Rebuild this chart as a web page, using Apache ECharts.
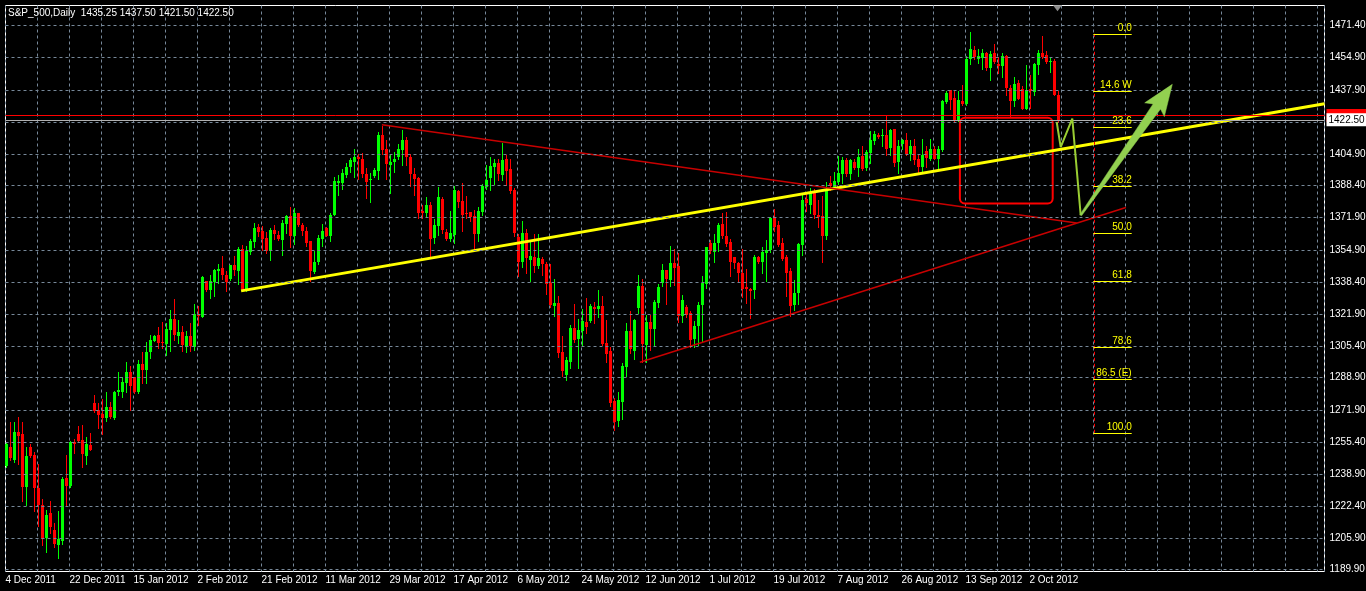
<!DOCTYPE html>
<html><head><meta charset="utf-8">
<script src="https://cdn.jsdelivr.net/npm/echarts@6/dist/echarts.min.js"></script>
<style>html,body{margin:0;padding:0;background:#000;overflow:hidden}#c{width:1366px;height:591px}</style>
</head><body><div id="c"></div>
<script>
const symbolName = 'S&P_500';
const timeframe = 'Daily';
// daily bars: [open, high, low, close]
const ohlc = [
[1243.4,1255.4,1242.5,1254.6],[1253.2,1266.1,1246.3,1247.2],[1246.5,1265.8,1245.1,1261.0],[1261.0,1268.4,1244.2,1258.9],
[1259.7,1266.1,1224.9,1232.2],[1232.2,1252.8,1222.7,1248.5],[1253.2,1254.6,1247.7,1248.5],[1249.0,1250.3,1219.7,1231.6],
[1231.8,1244.2,1212.3,1223.2],[1223.2,1226.1,1202.0,1205.4],[1205.9,1220.4,1198.5,1218.0],[1219.0,1225.2,1208.3,1211.4],
[1210.2,1213.7,1201.4,1202.5],[1202.0,1219.6,1195.6,1205.1],[1204.2,1237.7,1202.8,1236.6],[1237.0,1249.0,1222.7,1233.0],
[1233.0,1256.0,1232.2,1255.6],[1255.6,1257.2,1249.7,1254.6],[1259.7,1264.1,1256.0,1256.3],[1256.6,1264.6,1242.8,1249.4],
[1248.5,1258.4,1244.2,1254.6],[1254.2,1260.4,1251.5,1251.6],[1275.8,1280.1,1271.3,1271.8],[1272.2,1275.6,1262.7,1269.7],
[1270.1,1277.9,1259.6,1268.2],[1267.9,1281.7,1266.6,1273.9],[1273.9,1276.1,1267.9,1268.4],[1267.9,1282.0,1267.5,1281.7],
[1281.3,1292.0,1280.1,1282.7],[1281.7,1289.1,1279.1,1286.5],[1286.0,1297.2,1281.3,1292.0],[1292.0,1295.1,1272.2,1284.8],
[1289.1,1289.4,1281.0,1281.3],[1281.3,1298.0,1280.8,1296.0],[1296.0,1302.4,1286.0,1293.0],[1293.0,1307.5,1286.0,1302.4],
[1302.0,1311.2,1298.9,1308.6],[1308.0,1311.2,1307.7,1310.6],[1311.2,1315.3,1304.3,1306.7],[1307.2,1317.9,1304.3,1306.7],
[1306.3,1317.2,1300.8,1314.3],[1313.6,1324.1,1302.5,1319.4],[1319.4,1329.6,1308.6,1311.2],[1310.6,1318.9,1306.7,1312.7],
[1312.7,1315.5,1303.0,1306.0],[1305.0,1313.3,1302.0,1310.6],[1310.6,1317.2,1303.0,1305.5],[1305.0,1326.9,1303.5,1321.9],
[1321.5,1326.2,1316.2,1321.0],[1320.5,1341.7,1320.1,1341.2],[1339.1,1339.1,1333.6,1334.5],[1334.5,1342.2,1330.0,1338.8],
[1338.3,1345.1,1331.4,1344.8],[1344.3,1347.7,1337.9,1345.1],[1345.7,1352.1,1340.0,1342.2],[1342.2,1344.3,1333.6,1338.3],
[1340.0,1347.4,1339.6,1347.4],[1347.4,1352.1,1342.2,1344.8],[1344.3,1356.7,1337.4,1355.8],[1355.8,1357.6,1333.9,1334.5],
[1334.3,1357.2,1333.9,1354.3],[1353.8,1360.7,1352.9,1359.5],[1359.3,1369.0,1356.4,1366.7],[1367.0,1368.4,1362.1,1364.6],
[1365.0,1367.6,1355.2,1361.0],[1361.5,1364.5,1353.3,1354.3],[1354.6,1366.7,1350.0,1365.5],[1365.5,1368.1,1360.7,1363.3],
[1363.1,1365.0,1360.3,1360.7],[1360.3,1370.7,1352.4,1369.3],[1368.8,1373.3,1364.1,1372.8],[1372.8,1377.1,1356.4,1362.4],
[1362.1,1376.9,1358.1,1374.1],[1374.1,1374.1,1367.6,1367.9],[1368.1,1369.0,1362.9,1365.0],[1365.0,1367.1,1356.9,1358.9],
[1359.8,1359.8,1339.1,1344.3],[1343.8,1354.3,1343.4,1349.1],[1348.6,1362.7,1347.7,1361.5],[1360.7,1368.4,1357.2,1365.0],
[1366.7,1367.2,1362.1,1362.4],[1362.1,1374.5,1359.8,1373.3],[1373.3,1392.9,1373.3,1390.9],[1390.0,1394.0,1383.6,1390.9],
[1390.0,1396.9,1386.9,1394.8],[1393.8,1400.3,1393.1,1398.1],[1398.1,1402.6,1395.5,1401.7],[1400.7,1407.3,1393.1,1403.1],
[1403.1,1404.7,1391.7,1402.1],[1402.4,1405.2,1393.1,1394.7],[1394.7,1397.8,1382.2,1390.4],[1391.5,1394.8,1380.0,1391.9],
[1393.4,1397.8,1392.9,1396.6],[1396.0,1416.2,1392.1,1414.7],[1414.7,1419.3,1404.7,1406.9],[1407.6,1412.1,1391.7,1399.8],
[1399.1,1404.7,1384.8,1400.7],[1400.7,1405.9,1395.5,1402.4],[1403.3,1409.8,1402.4,1407.6],[1406.9,1417.3,1399.0,1412.1],
[1412.1,1413.8,1399.0,1403.1],[1403.1,1404.7,1388.3,1394.7],[1394.7,1397.8,1383.6,1391.7],[1392.6,1392.9,1371.9,1374.0],
[1375.3,1378.3,1371.4,1374.5],[1374.5,1382.6,1372.8,1378.4],[1378.4,1380.0,1352.1,1361.0],[1361.5,1371.0,1358.9,1368.1],
[1367.6,1387.9,1362.9,1382.6],[1381.4,1382.6,1363.8,1365.5],[1364.5,1365.9,1360.3,1361.0],[1360.7,1375.3,1359.8,1363.8],
[1362.9,1388.3,1358.9,1386.2],[1385.7,1386.2,1377.4,1380.0],[1380.5,1390.0,1365.0,1373.3],[1374.5,1383.1,1371.9,1373.6],
[1374.8,1374.8,1370.2,1372.4],[1372.8,1375.7,1354.6,1363.6],[1363.6,1377.1,1359.8,1375.3],[1374.8,1389.1,1373.1,1388.3],
[1387.8,1399.0,1386.9,1391.4],[1392.6,1403.1,1386.2,1398.6],[1398.1,1402.4,1389.1,1400.3],[1400.3,1402.1,1391.4,1394.7],
[1394.0,1410.7,1391.4,1401.7],[1402.4,1404.1,1388.8,1396.0],[1397.2,1402.4,1384.5,1385.7],[1386.2,1387.4,1362.4,1363.8],
[1361.9,1363.3,1341.7,1348.6],[1348.6,1370.2,1346.5,1364.1],[1364.1,1365.9,1343.4,1350.7],[1350.0,1360.3,1338.8,1352.1],
[1351.5,1363.3,1343.8,1346.9],[1346.7,1363.3,1345.5,1351.0],[1350.4,1351.6,1342.1,1347.8],[1347.8,1349.0,1332.1,1337.4],
[1338.1,1347.6,1325.7,1326.6],[1326.0,1340.0,1320.9,1327.8],[1327.8,1331.4,1299.8,1301.9],[1302.4,1310.7,1290.0,1292.6],
[1290.3,1299.5,1287.7,1298.1],[1297.2,1316.2,1293.8,1314.8],[1314.8,1327.1,1307.6,1308.4],[1309.0,1319.3,1293.8,1313.6],
[1313.1,1324.5,1305.9,1318.3],[1317.9,1330.0,1311.9,1315.3],[1318.3,1326.9,1317.6,1326.0],[1325.7,1328.3,1317.1,1324.5],
[1324.5,1334.3,1320.2,1326.0],[1326.0,1331.4,1305.9,1306.4],[1307.1,1318.8,1297.2,1301.2],[1302.7,1305.0,1274.0,1275.7],
[1276.9,1278.3,1261.9,1266.2],[1266.5,1281.7,1264.1,1277.4],[1276.5,1296.4,1267.6,1295.0],[1294.6,1317.1,1290.0,1313.1],
[1313.1,1323.4,1301.5,1303.8],[1302.9,1319.3,1298.6,1318.8],[1324.8,1342.1,1322.2,1336.4],[1336.4,1340.0,1297.2,1306.4],
[1305.9,1321.4,1297.2,1317.9],[1317.9,1321.4,1303.3,1314.1],[1314.1,1329.1,1305.5,1327.9],[1327.8,1337.4,1325.7,1336.0],
[1337.8,1347.6,1336.6,1344.7],[1344.7,1344.7,1327.1,1340.0],[1339.5,1357.1,1336.6,1348.1],[1348.1,1355.4,1336.9,1345.5],
[1346.7,1353.6,1317.6,1321.0],[1320.9,1331.7,1317.9,1329.1],[1325.7,1326.6,1320.2,1321.4],[1322.6,1323.4,1304.6,1308.4],
[1309.0,1318.3,1305.0,1315.9],[1315.9,1328.3,1305.9,1326.6],[1326.6,1341.7,1307.2,1338.1],[1337.4,1356.7,1335.5,1356.7],
[1358.8,1360.5,1353.3,1354.5],[1353.8,1363.3,1349.1,1358.9],[1358.9,1369.0,1354.6,1368.1],[1368.8,1374.5,1361.5,1362.1],
[1362.4,1374.8,1357.2,1358.4],[1359.3,1360.7,1341.7,1348.6],[1351.5,1351.7,1346.0,1348.3],[1348.1,1348.6,1338.8,1343.4],
[1343.4,1355.8,1330.5,1334.8],[1335.7,1345.1,1327.4,1334.8],[1334.8,1335.2,1319.8,1333.9],[1334.3,1352.4,1330.0,1351.5],
[1351.2,1352.1,1348.3,1348.6],[1348.6,1356.4,1342.9,1354.1],[1353.3,1360.3,1339.1,1355.2],[1355.0,1372.4,1353.8,1371.9],
[1371.5,1376.2,1365.0,1367.1],[1368.1,1370.2,1357.2,1357.6],[1358.9,1361.2,1350.0,1350.3],[1351.2,1352.4,1331.4,1343.4],
[1344.3,1346.0,1321.0,1326.2],[1326.5,1339.6,1324.1,1332.6],[1332.6,1358.9,1327.0,1358.4],[1357.6,1384.8,1352.4,1381.0],
[1381.7,1384.5,1375.3,1379.3],[1378.4,1387.4,1374.5,1384.5],[1384.5,1386.6,1371.9,1373.3],[1373.3,1381.0,1367.2,1372.4],
[1372.8,1382.8,1349.0,1362.1],[1362.1,1390.4,1361.0,1386.2],[1390.0,1393.4,1386.2,1388.3],[1387.8,1395.5,1387.4,1390.9],
[1390.4,1403.8,1389.1,1394.8],[1394.3,1403.5,1390.0,1401.7],[1401.7,1402.9,1393.4,1394.3],[1394.3,1402.4,1391.7,1401.7],
[1400.9,1402.1,1396.9,1397.8],[1397.8,1407.3,1393.4,1403.3],[1403.8,1409.0,1396.6,1396.9],[1397.4,1406.9,1396.6,1405.9],
[1405.5,1416.7,1400.3,1412.1],[1411.6,1416.7,1409.8,1415.0],[1414.7,1415.9,1413.3,1413.6],[1414.5,1417.6,1409.0,1414.9],
[1414.5,1425.2,1404.1,1407.6],[1407.9,1417.6,1404.5,1417.1],[1417.6,1418.0,1398.6,1400.3],[1400.7,1411.9,1395.2,1408.8],
[1409.8,1412.8,1407.6,1411.9],[1411.9,1415.9,1404.1,1404.6],[1404.6,1411.9,1401.5,1408.8],[1408.8,1412.8,1399.8,1401.5],
[1402.1,1405.0,1395.0,1398.1],[1398.1,1412.4,1395.5,1404.1],[1406.4,1409.0,1398.1,1402.7],[1402.4,1412.4,1401.5,1407.2],
[1407.6,1408.8,1402.1,1402.4],[1402.1,1409.0,1396.9,1407.2],[1406.7,1432.6,1406.2,1432.1],[1431.7,1437.4,1431.4,1436.6],
[1438.1,1438.1,1428.3,1432.6],[1433.8,1437.8,1421.4,1421.7],[1422.2,1437.2,1421.7,1432.6],[1432.1,1440.4,1430.0,1430.5],
[1430.5,1455.5,1430.0,1454.2],[1453.8,1467.9,1451.6,1459.0],[1458.5,1461.0,1454.2,1455.0],[1454.2,1459.0,1451.9,1455.4],
[1454.7,1459.0,1449.0,1457.1],[1457.1,1457.9,1448.5,1449.3],[1449.3,1458.1,1443.3,1456.4],[1457.1,1461.9,1452.1,1452.4],
[1451.2,1455.0,1446.9,1450.5],[1450.4,1457.1,1444.7,1455.4],[1455.4,1456.2,1435.2,1439.0],[1439.0,1440.4,1424.5,1432.2],
[1432.2,1444.7,1429.5,1440.9],[1441.7,1442.9,1433.1,1433.5],[1438.7,1440.0,1427.9,1428.3],[1428.3,1451.0,1427.9,1437.8],
[1438.3,1445.9,1428.6,1437.2],[1436.9,1452.1,1435.2,1451.6],[1451.0,1458.5,1446.4,1457.3],[1457.3,1465.7,1454.7,1455.0],
[1455.9,1458.1,1452.1,1452.4],[1452.8,1454.7,1447.3,1453.0],[1452.9,1454.2,1435.2,1435.5],[1435.25,1437.5,1421.5,1422.5]
];
const dateLabels = ['4 Dec 2011','22 Dec 2011','15 Jan 2012','2 Feb 2012','21 Feb 2012','11 Mar 2012','29 Mar 2012',
  '17 Apr 2012','6 May 2012','24 May 2012','12 Jun 2012','1 Jul 2012','19 Jul 2012','7 Aug 2012','26 Aug 2012',
  '13 Sep 2012','2 Oct 2012'];
const barsPerLabel = 16;
const priceTicks = [1471.40,1454.90,1437.90,1421.40,1404.90,1388.40,1371.90,1354.90,1338.40,1321.90,1305.40,
  1288.90,1271.90,1255.40,1238.90,1222.40,1205.90,1189.90];
const resistanceLevel = 1424.8;
// drawn objects: [barIndex, price]
const trendYellow = [[58.9,1333.9],[329.75,1430.8]];
const trendRedDown = [[94.1,1420.0],[267.8,1369.1]];
const trendRedUp = [[158.6,1296.9],[280.1,1377.1]];
const boxRect = [238.6,1423.6,261.8,1379.1];
const zigzag = [[262.8,1421.4],[263.8,1408.4],[266.7,1423.1],[268.8,1373.1]];
const bigArrow = [268.8,1373.1,291.7,1440.9];
const fibNames = ['0.0','14.6 W','23.6','38.2','50.0','61.8','78.6','86.5 (E)','100.0'];
const fibPrices = [1467.1,1437.4,1418.5,1388.3,1363.7,1339.1,1304.6,1288.2,1260.1];
const fibStart = 271.95, fibEnd = 281.55, fibAxisX = 272.1;

const FONT = '"Liberation Sans",Arial,sans-serif';
const FS = 10;
const GRID = '#778899';
const BULL = '#00ff00', BEAR = '#ff0000';
const last = ohlc[ohlc.length - 1];

const candles = ohlc.map((d, i) => [i, d[0], d[3], d[2], d[1]]);

const chart = echarts.init(document.getElementById('c'));
chart.setOption({
  backgroundColor: '#000000',
  animation: false,
  title: {
    text: symbolName + ',' + timeframe + '  ' + last.map(v => v.toFixed(2)).join(' '),
    left: 8, top: 8, padding: 0,
    textStyle: {color: '#ffffff', fontSize: FS, fontWeight: 'normal', fontFamily: FONT}
  },
  grid: {left: 5.5, right: 41.5, top: 5.5, bottom: 19.5, containLabel: false, outerBoundsMode: 'none',
    show: true, borderColor: '#ffffff', borderWidth: 1, backgroundColor: 'transparent'},
  xAxis: {
    type: 'value', min: 0, max: 329.75, interval: 8,
    axisLine: {show: false}, axisTick: {show: false},
    splitLine: {show: true, lineStyle: {color: GRID, type: [3, 3], width: 1}},
    axisLabel: {
      color: '#ffffff', fontSize: FS, fontFamily: FONT, align: 'left', margin: 4,
      showMinLabel: true, showMaxLabel: false, hideOverlap: false,
      formatter: v => { const r = Math.round(v); if (r % barsPerLabel) return ''; return dateLabels[r / barsPerLabel] || ''; }
    }
  },
  yAxis: {
    type: 'value', position: 'right', min: 1188.5, max: 1481.75,
    axisLine: {show: false}, axisTick: {show: false}, splitLine: {show: false},
    axisLabel: {customValues: priceTicks, color: '#ffffff', fontSize: FS, fontFamily: FONT, margin: 5,
      formatter: v => v.toFixed(2)}
  },
  series: [
    {
      type: 'line', data: [], z: 1, silent: true,
      markLine: {silent: true, symbol: 'none', label: {show: false},
        lineStyle: {color: GRID, type: [3, 3], width: 1},
        data: priceTicks.map(v => ({yAxis: v}))}
    },
    {
      type: 'custom', z: 3, silent: true, clip: false,
      encode: {x: 0, y: [1, 2, 3, 4]},
      data: candles,
      renderItem: (params, api) => {
        const x = api.value(0), o = api.value(1), c = api.value(2), l = api.value(3), h = api.value(4);
        const po = api.coord([x, o]), pc = api.coord([x, c]), pl = api.coord([x, l]), ph = api.coord([x, h]);
        const cx = Math.floor(po[0]) + 1.5;
        const top = Math.round(Math.min(po[1], pc[1])), bot = Math.round(Math.max(po[1], pc[1]));
        const col = c >= o ? BULL : BEAR;
        return {type: 'group', children: [
          {type: 'line', shape: {x1: cx, y1: Math.round(ph[1]), x2: cx, y2: Math.round(pl[1]) + 1}, style: {stroke: col, lineWidth: 1}},
          {type: 'rect', shape: {x: cx - 1.5, y: top, width: 3, height: Math.max(bot - top, 1)}, style: {fill: col}}
        ]};
      }
    },
    {
      type: 'line', data: [], z: 3, silent: true,
      markPoint: {silent: true, label: {show: false},
        data: [{coord: [ohlc.length - 1, 1480.3], symbol: 'triangle', symbolRotate: 180, symbolSize: [9, 6], itemStyle: {color: '#8c8c8c'}}]}
    },
    {
      type: 'line', data: trendYellow, z: 4, silent: true, symbol: 'none',
      lineStyle: {color: '#ffff00', width: 3}
    },
    {
      type: 'line', data: trendRedDown, z: 4, silent: true, symbol: 'none',
      lineStyle: {color: '#c80000', width: 1.5}
    },
    {
      type: 'line', data: trendRedUp, z: 4, silent: true, symbol: 'none',
      lineStyle: {color: '#c80000', width: 1.5}
    },
    {
      type: 'custom', z: 4, silent: true, data: [boxRect], encode: {x: [0, 2], y: [1, 3]},
      renderItem: (params, api) => {
        const p1 = api.coord([api.value(0), api.value(1)]);
        const p2 = api.coord([api.value(2), api.value(3)]);
        return {type: 'rect', shape: {x: p1[0], y: p1[1], width: p2[0] - p1[0], height: p2[1] - p1[1], r: 5},
          style: {fill: null, stroke: '#ff0000', lineWidth: 2}};
      }
    },
    {
      type: 'line', data: [], z: 4, silent: true,
      markLine: {
        silent: true, symbol: 'none',
        data: [
          [{coord: [fibAxisX, fibPrices[0]], lineStyle: {color: '#ff0000', type: [3, 3], width: 1}, label: {show: false}},
           {coord: [fibAxisX, fibPrices[fibPrices.length - 1]]}]
        ].concat(fibPrices.map((p, i) => [
          {coord: [fibStart, p], lineStyle: {color: '#ffff00', type: 'solid', width: 1},
           label: {show: true, position: 'insideEndTop', formatter: fibNames[i], color: '#ffff00',
             fontSize: FS, fontFamily: FONT, distance: [0, 1]}},
          {coord: [fibEnd, p]}
        ]))
      }
    },
    {
      type: 'line', data: zigzag, z: 5, silent: true, symbol: 'none',
      lineStyle: {color: '#9acd32', width: 2}
    },
    {
      type: 'custom', z: 6, silent: true, data: [bigArrow], encode: {x: [0, 2], y: [1, 3]},
      renderItem: (params, api) => {
        const a = api.coord([api.value(0), api.value(1)]);
        const b = api.coord([api.value(2), api.value(3)]);
        const dx = b[0] - a[0], dy = b[1] - a[1], L = Math.hypot(dx, dy);
        const ux = dx / L, uy = dy / L, nx = -uy, ny = ux;
        const headLen = 27, headW = 12, s0 = 1, s1 = 4.5, notch = 4;
        const bx = b[0] - ux * headLen, by = b[1] - uy * headLen;
        const wx = bx - ux * notch, wy = by - uy * notch;
        const pts = [
          [a[0] + nx * s0, a[1] + ny * s0], [bx + nx * s1, by + ny * s1], [wx + nx * headW, wy + ny * headW], b,
          [wx - nx * headW, wy - ny * headW], [bx - nx * s1, by - ny * s1], [a[0] - nx * s0, a[1] - ny * s0]
        ];
        return {type: 'polygon', shape: {points: pts}, style: {fill: '#92d050', stroke: '#92d050', lineWidth: 0.5}};
      }
    },
    {
      type: 'line', data: [], z: 7, silent: true,
      markLine: {silent: true, symbol: 'none',
        data: [{yAxis: resistanceLevel, lineStyle: {color: '#ff0000', type: 'solid', width: 1},
          label: {show: true, position: 'end', distance: 2, formatter: resistanceLevel.toFixed(2),
            backgroundColor: '#ff0000', color: '#ff0000', padding: [2, 4, 1, 2], fontSize: FS, fontFamily: FONT}}]}
    },
    {
      type: 'line', data: [], z: 8, silent: true,
      markLine: {silent: true, symbol: 'none',
        data: [{yAxis: last[3], lineStyle: {color: '#b0b0b0', type: 'solid', width: 1},
          label: {show: true, position: 'end', distance: 2, formatter: last[3].toFixed(2),
            backgroundColor: '#ffffff', color: '#000000', padding: [2, 4, 1, 2], fontSize: FS, fontFamily: FONT}}]}
    }
  ]
});
</script>
</body></html>
